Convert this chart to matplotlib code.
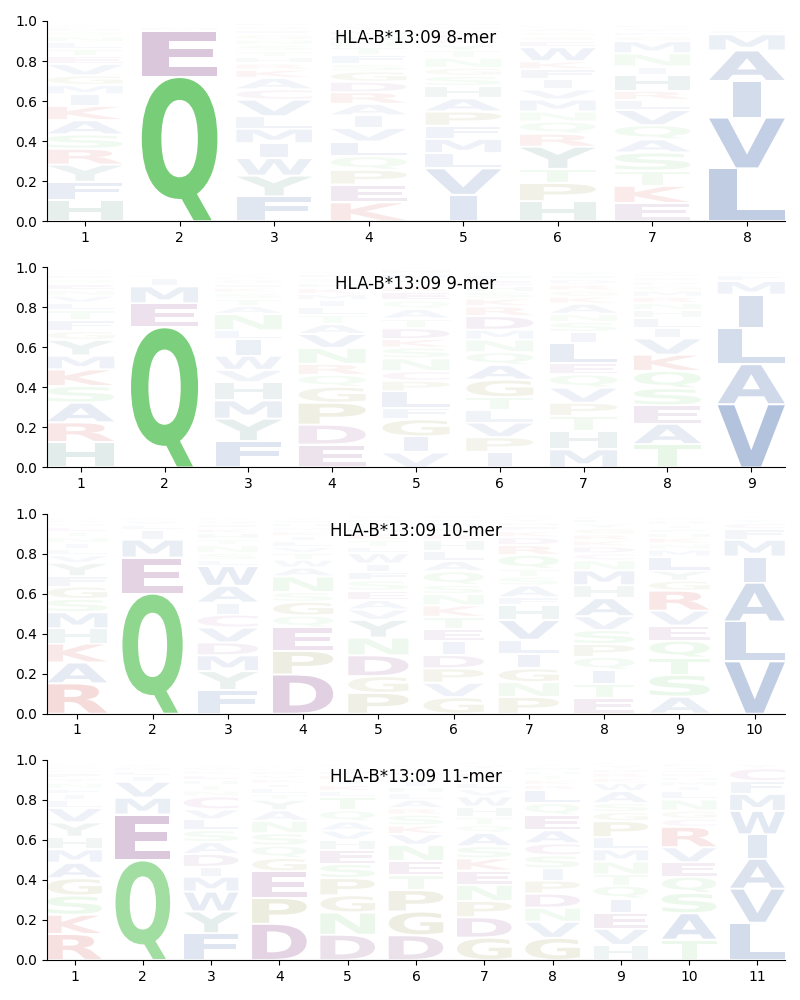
import matplotlib
matplotlib.use("Agg")
import matplotlib.pyplot as plt
from matplotlib.textpath import TextPath
from matplotlib.font_manager import FontProperties
from matplotlib.patches import PathPatch
from matplotlib.transforms import Affine2D

allele = "HLA-B*13:09"

# letters of each column, listed bottom -> top, with their frequencies
letters_8 = ["HFYRSAKIMGVETLNQDPWC", "QEMDILAT", "FYWIMLVCAKRHTSNGEQPD",
             "KEPQLVIARDGSFTNHMYWC", "IVLMFPAHSGNTYKREQDW", "HPTYRQNMVIFKWESGALDC",
             "EKTSAQVLRHINMGFYDPC", "LVIAMFTYCW"]
freqs_8 = [[.11, .097, .09, .083, .075, .075, .075, .06, .05, .05, .06, .04, .04, .035, .03, .025, .02, .015, .01, .01],
           [.72, .23, .02, .01, .008, .006, .004, .002],
           [.12, .1, .085, .072, .07, .06, .08, .05, .055, .04, .03, .03, .03, .03, .025, .025, .02, .02, .015, .01],
           [.09, .085, .07, .065, .07, .065, .06, .055, .055, .05, .05, .035, .045, .035, .03, .025, .025, .02, .015, .01],
           [.13, .13, .075, .07, .065, .07, .065, .06, .05, .04, .05, .035, .03, .025, .025, .02, .02, .015, .01],
           [.1, .09, .07, .11, .065, .06, .05, .06, .05, .05, .05, .04, .07, .03, .025, .02, .02, .015, .01, .01],
           [.09, .085, .075, .09, .065, .07, .075, .05, .045, .08, .04, .065, .06, .025, .02, .02, .015, .01, .01],
           [.26, .25, .18, .15, .08, .02, .015, .01, .01, .01]]

letters_9 = ["HRASKMYGFTLVNEQDPWC", "QEMILVDAT", "FYMHVWILNATSKEGRQDCP",
             "EDPGQRNVATLIMKHSFYWC", "VIGFLPCNSKDTAQERYMHW", "IPVLTGAQNMDRKSHEFYWC",
             "MHTPVQELISNAKGRDFYWC", "TAESQKVILHNRMGDPFYWC", "VALIMFTYC"]
freqs_9 = [[.13, .1, .1, .085, .085, .07, .08, .045, .055, .05, .04, .035, .03, .03, .025, .02, .015, .015, .01],
           [.7, .12, .085, .04, .015, .01, .01, .01, .01],
           [.13, .11, .09, .09, .06, .07, .08, .045, .08, .04, .035, .03, .025, .02, .02, .015, .015, .01, .01, .01],
           [.115, .1, .11, .08, .06, .055, .08, .07, .05, .045, .04, .035, .03, .03, .025, .025, .02, .015, .01, .01],
           [.07, .075, .08, .055, .075, .05, .045, .06, .05, .04, .05, .045, .045, .04, .04, .03, .03, .025, .02, .01],
           [.08, .075, .075, .065, .065, .09, .075, .065, .065, .05, .07, .05, .04, .035, .03, .03, .025, .02, .01, .01],
           [.09, .09, .075, .065, .075, .065, .055, .1, .055, .05, .04, .05, .035, .03, .03, .025, .02, .02, .01, .01],
           [.115, .1, .09, .085, .085, .08, .08, .05, .05, .04, .035, .03, .03, .025, .02, .02, .015, .015, .01, .01],
           [.3, .19, .17, .16, .065, .03, .015, .01, .01]]

letters_10 = ["RAKHMSGFYVLINTEQDPWC", "QEMILVDAT", "FYMDVCIAWLSNTHKEGRQP",
              "DPEQGSNAWTVLIKMHFYRC", "PGDNYVAESFIWLTKHQMRC", "GVPDIETKNSQALHRYMFWC",
              "PNGILVHFASTQRDKEMYWC", "ETIQPSVAHMNCDKRGYLFW", "ASTQEVRGYLMNKHFIDPWC",
              "VLAIMFCYTW"]
freqs_10 = [[.16, .11, .1, .08, .085, .07, .065, .055, .07, .04, .035, .03, .03, .03, .025, .02, .015, .015, .01, .01],
            [.6, .18, .09, .05, .025, .02, .015, .01, .01],
            [.12, .095, .08, .065, .075, .065, .06, .085, .1, .03, .035, .04, .03, .03, .025, .02, .02, .015, .01, .01],
            [.2, .12, .12, .06, .07, .05, .08, .045, .04, .035, .03, .03, .025, .025, .02, .02, .015, .015, .01, .01],
            [.1, .08, .1, .085, .085, .05, .045, .045, .05, .04, .04, .05, .03, .035, .03, .025, .025, .02, .015, .01],
            [.08, .07, .07, .065, .065, .06, .06, .055, .055, .045, .065, .05, .05, .05, .03, .03, .025, .02, .015, .01],
            [.085, .075, .07, .075, .07, .1, .075, .04, .06, .045, .04, .07, .05, .04, .03, .025, .02, .02, .015, .01],
            [.08, .07, .07, .065, .065, .07, .07, .09, .065, .075, .05, .035, .035, .03, .03, .03, .025, .025, .015, .01],
            [.085, .11, .085, .085, .075, .075, .1, .05, .05, .07, .035, .03, .03, .025, .02, .02, .02, .015, .01, .01],
            [.25, .19, .185, .125, .08, .05, .03, .02, .015, .01]]

letters_11 = ["RKSGAMHYVLIFNTEQDPWC", "QEMVILDATY", "FYWMIDASLVCNTHEKGQRP",
              "DPEGQSNAYTLIKVRHMFWC", "DNGPSEHVAQTLKIRMYFWC", "DGPTENVKSRALHIQMYFWC",
              "GDPNEKSAQTHWVLIRMYFC", "GVNDPISCAEQLRKTHMYFW", "HVEIQTNMLPGSAWKRDYFC",
              "TASQEVRCGNLIMHKFYDPW", "LVAIWMFCYTG"]
freqs_11 = [[.135, .1, .1, .09, .08, .07, .065, .075, .075, .04, .03, .03, .03, .025, .025, .02, .015, .015, .01, .01],
            [.5, .23, .085, .08, .03, .025, .02, .015, .01, .01],
            [.135, .11, .1, .075, .05, .065, .06, .06, .055, .05, .065, .03, .03, .025, .025, .02, .02, .015, .01, .01],
            [.19, .135, .14, .07, .065, .065, .065, .055, .055, .03, .03, .025, .025, .02, .02, .015, .015, .01, .01, .01],
            [.125, .11, .085, .085, .07, .07, .05, .045, .045, .055, .065, .03, .03, .025, .025, .02, .02, .015, .01, .01],
            [.115, .11, .1, .07, .065, .075, .05, .04, .05, .03, .04, .03, .03, .025, .025, .02, .02, .015, .01, .01],
            [.11, .1, .08, .08, .07, .06, .06, .065, .04, .04, .05, .05, .035, .03, .025, .025, .02, .02, .015, .01],
            [.11, .08, .07, .07, .065, .06, .065, .06, .065, .075, .06, .065, .025, .025, .025, .02, .02, .015, .01, .01],
            [.075, .08, .08, .07, .065, .055, .065, .06, .06, .08, .045, .045, .06, .04, .025, .025, .02, .02, .015, .01],
            [.1, .13, .1, .08, .07, .075, .1, .04, .04, .055, .04, .025, .025, .02, .02, .015, .015, .015, .01, .01],
            [.175, .16, .14, .115, .11, .08, .06, .06, .02, .01, .01]]

logos = [(8, letters_8, freqs_8), (9, letters_9, freqs_9),
         (10, letters_10, freqs_10), (11, letters_11, freqs_11)]

# colour groups
colors = {}
for aa in "AVLIMFW":
    colors[aa] = "#144496"
for aa in "STNQ":
    colors[aa] = "#44bb44"
for aa in "DE":
    colors[aa] = "#671067"
for aa in "KR":
    colors[aa] = "#c81414"
for aa in "PG":
    colors[aa] = "#6e6e0a"
for aa in "HY":
    colors[aa] = "#206d5e"
colors["C"] = "#962882"

font = FontProperties(family="DejaVu Sans", weight="bold")
ref_w = TextPath((0, 0), "E", size=1, prop=font).get_extents().width


def draw_letter(ax, c, x, y, h, alpha, width=0.8, vpad=0.005):
    path = TextPath((0, 0), c, size=1, prop=font)
    bb = path.get_extents()
    gh = h - 2 * vpad
    if gh <= 0:
        return
    hs = min(width / ref_w, width / bb.width)
    gw = bb.width * hs
    t = Affine2D().translate(-bb.x0, -bb.y0).scale(hs, gh / bb.height).translate(x - gw / 2, y + vpad)
    ax.add_patch(PathPatch(t.transform_path(path), fc=colors[c], ec="none", lw=0, alpha=alpha))


fig, axes = plt.subplots(4, 1, figsize=(8, 10))
plt.subplots_adjust(left=0.059, right=0.981, top=0.979, bottom=0.04, hspace=0.23)

for ax, (L, letters, freqs) in zip(axes, logos):
    for i in range(L):
        tot = sum(freqs[i])
        y = 0.0
        for c, f in zip(letters[i], freqs[i]):
            p = f / tot
            draw_letter(ax, c, i + 1, y, p, min(1.0, p))
            y += p
    ax.set_xlim(0.6, L + 0.4)
    ax.set_ylim(0, 1)
    ax.set_xticks(range(1, L + 1))
    ax.set_yticks([0, 0.2, 0.4, 0.6, 0.8, 1.0])
    ax.spines["top"].set_visible(False)
    ax.spines["right"].set_visible(False)
    ax.text(0.5, 0.89, f"{allele} {L}-mer", transform=ax.transAxes,
            ha="center", va="baseline", fontsize=12)

fig.savefig("out.png", dpi=100)
